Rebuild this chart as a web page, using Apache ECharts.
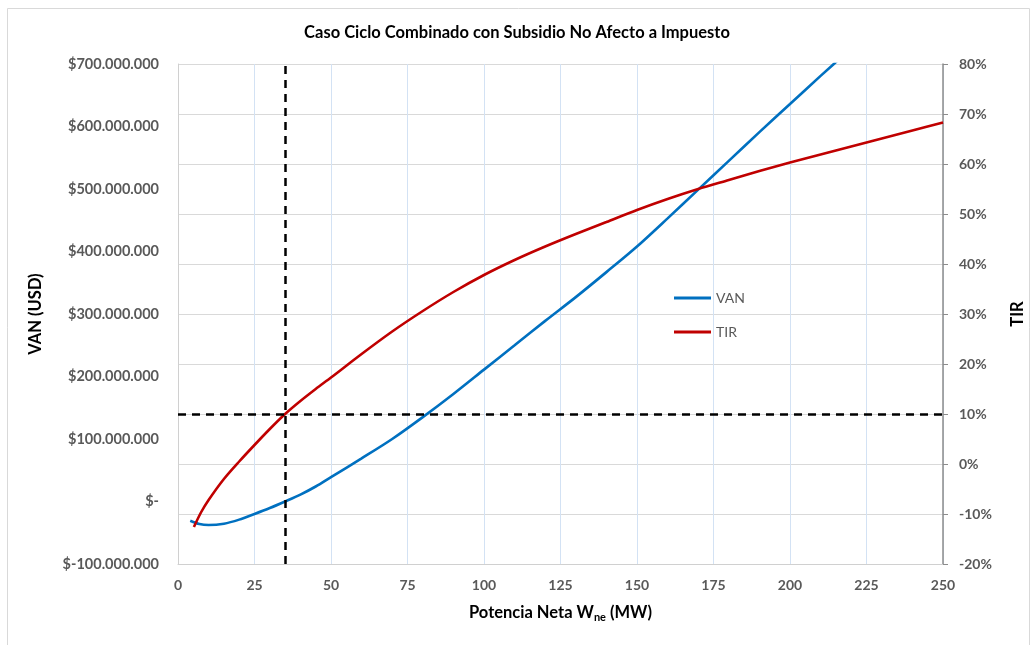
<!DOCTYPE html>
<html>
<head>
<meta charset="utf-8">
<script src="https://cdn.jsdelivr.net/npm/echarts@6/dist/echarts.min.js"></script>
<style>
  html, body { margin: 0; padding: 0; background: #fff; }
  #chart { width: 1034px; height: 645px; }
</style>
</head>
<body>
<div id="chart"></div>
<script>
// Net present value (VAN, millions of USD) versus net power output (MW)
const vanPower = [4, 7, 10, 15, 20, 25, 30, 35, 40, 45, 50, 60, 70, 80, 90, 100, 110, 120, 130, 140, 150, 160, 170, 180, 190, 200, 210, 220];
const vanMillions = [-30.7, -36, -37.6, -35.5, -29, -20, -10.5, 0, 11, 24, 39, 69, 100, 135, 172, 211, 250, 289, 327, 367, 408, 453, 499, 545, 591, 636, 681, 725];

// Internal rate of return (TIR, %) versus net power output (MW)
const tirPower = [5.2, 7.5, 10, 15, 20, 25, 30, 35, 40, 45, 50, 60, 70, 80, 90, 100, 110, 120, 130, 140, 150, 160, 170, 180, 190, 200, 210, 220, 230, 240, 250];
const tirPercent = [-12.6, -9.7, -7.2, -3.0, 0.5, 3.8, 7.0, 10.0, 12.6, 15.0, 17.3, 22.0, 26.5, 30.6, 34.4, 37.8, 40.8, 43.5, 46.0, 48.4, 50.8, 53.0, 55.0, 56.8, 58.6, 60.3, 61.9, 63.5, 65.1, 66.7, 68.3];

// Reference lines: break-even power and discount rate
const breakEvenPower = 35;
const discountRate = 10;

// Axis ranges
const powerTicks = { min: 0, max: 250, step: 25 };
const vanTicks = { min: -100, max: 700, step: 100 };
const tirTicks = { min: -20, max: 80, step: 10 };

const FONT = 'Lato, "Open Sans", "Liberation Sans", sans-serif';
const LABEL_GREY = '#595959';

function formatUsd(millions) {
  if (millions === 0) return '$-';
  const sign = millions < 0 ? '-' : '';
  const digits = String(Math.round(Math.abs(millions) * 1e6));
  return '$' + sign + digits.replace(/\B(?=(\d{3})+(?!\d))/g, '.');
}

const chart = echarts.init(document.getElementById('chart'), null, { renderer: 'canvas' });

chart.setOption({
  animation: false,
  backgroundColor: '#ffffff',
  textStyle: { fontFamily: FONT },
  graphic: [{
    type: 'rect',
    shape: { x: 7.5, y: 8.5, width: 1022, height: 650 },
    style: { fill: 'none', stroke: '#d9d9d9', lineWidth: 1 },
    silent: true
  }],
  title: {
    text: 'Caso Ciclo Combinado con Subsidio No Afecto a Impuesto',
    left: 'center',
    top: 19,
    textStyle: { fontFamily: FONT, fontSize: 16.5, fontWeight: 'bold', color: '#000' }
  },
  legend: {
    orient: 'vertical',
    left: 674,
    top: 290,
    padding: 0,
    itemWidth: 37,
    itemHeight: 3,
    itemGap: 18,
    icon: 'rect',
    textStyle: { fontFamily: FONT, fontSize: 14, color: LABEL_GREY, lineHeight: 16 },
    data: ['VAN', 'TIR']
  },
  grid: { left: 178, right: 90, top: 64, bottom: 81, containLabel: false },
  xAxis: {
    type: 'value',
    min: powerTicks.min,
    max: powerTicks.max,
    interval: powerTicks.step,
    name: '{a|Potencia Neta W}{sub|ne}{a| (MW)}',
    nameLocation: 'middle',
    nameGap: 39,
    nameTextStyle: {
      rich: {
        a: { fontFamily: FONT, fontSize: 16.5, fontWeight: 'bold', color: '#000', lineHeight: 20 },
        sub: { fontFamily: FONT, fontSize: 11, fontWeight: 'bold', color: '#000', lineHeight: 20, padding: [8, 0, 0, 0] }
      }
    },
    axisLine: { show: true, onZero: false, lineStyle: { color: '#d0d0d0', width: 1 } },
    axisTick: { show: false },
    axisLabel: { margin: 14, fontFamily: FONT, fontSize: 14, fontWeight: 'bold', color: LABEL_GREY },
    splitLine: { show: true, lineStyle: { color: '#d3e2f4', width: 1 } }
  },
  yAxis: [{
    type: 'value',
    position: 'left',
    min: vanTicks.min,
    max: vanTicks.max,
    interval: vanTicks.step,
    name: 'VAN (USD)',
    nameLocation: 'middle',
    nameRotate: 90,
    nameGap: 134,
    nameTextStyle: { fontFamily: FONT, fontSize: 16.5, fontWeight: 'bold', color: '#000' },
    axisLine: { show: true, onZero: false, lineStyle: { color: '#d0d0d0', width: 1 } },
    axisTick: { show: false },
    axisLabel: { margin: 19, fontFamily: FONT, fontSize: 14.5, fontWeight: 'bold', color: LABEL_GREY, formatter: formatUsd },
    splitLine: { show: false }
  }, {
    type: 'value',
    position: 'right',
    min: tirTicks.min,
    max: tirTicks.max,
    interval: tirTicks.step,
    name: 'TIR',
    nameLocation: 'middle',
    nameRotate: 90,
    nameGap: 66,
    nameTextStyle: { fontFamily: FONT, fontSize: 16.5, fontWeight: 'bold', color: '#000' },
    axisLine: { show: true, onZero: false, lineStyle: { color: '#8c8c8c', width: 1.5 } },
    axisTick: { show: true, inside: false, length: 5, lineStyle: { color: '#8c8c8c', width: 1 } },
    axisLabel: { margin: 16, fontFamily: FONT, fontSize: 14, fontWeight: 'bold', color: LABEL_GREY,
      formatter: v => Math.round(v) + '%' },
    splitLine: { show: true, lineStyle: { color: '#d9d9d9', width: 1.2 } }
  }],
  series: [{
    name: 'VAN',
    type: 'line',
    yAxisIndex: 0,
    smooth: 0.3,
    symbol: 'none',
    clip: true,
    color: '#0070c0',
    lineStyle: { color: '#0070c0', width: 2.6 },
    data: vanPower.map((p, i) => [p, vanMillions[i]]),
    z: 3
  }, {
    name: 'TIR',
    type: 'line',
    yAxisIndex: 1,
    smooth: 0.3,
    symbol: 'none',
    clip: true,
    color: '#c00000',
    lineStyle: { color: '#c00000', width: 2.6 },
    data: tirPower.map((p, i) => [p, tirPercent[i]]),
    z: 3,
    markLine: {
      silent: true,
      symbol: 'none',
      label: { show: false },
      lineStyle: { color: '#000', type: [8, 6], width: 2.5 },
      data: [{ yAxis: discountRate }, { xAxis: breakEvenPower }],
      z: 4
    }
  }]
});
</script>
</body>
</html>
